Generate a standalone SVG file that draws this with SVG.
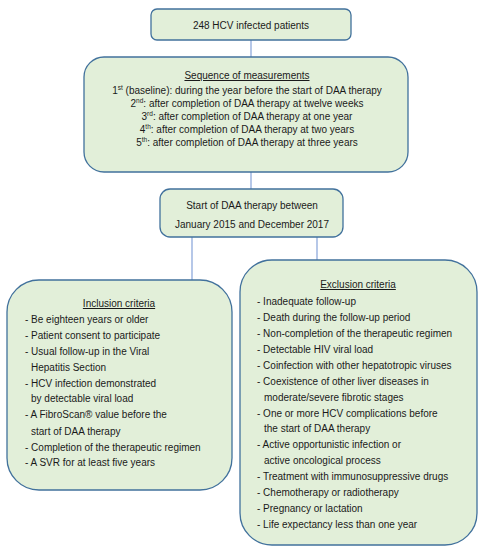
<svg xmlns="http://www.w3.org/2000/svg" width="484" height="550" viewBox="0 0 484 550">
<style>
.box{fill:#e2efd9;stroke:#41719c;stroke-width:1.3}
.con{stroke:#8faadc;stroke-width:1.3;fill:none}
text{font-family:"Liberation Sans",Arial,sans-serif;font-size:10px;fill:#1a1a1a}
.c{text-anchor:middle}
.u{text-decoration:underline}
.sup{font-size:6.5px}
</style>
<rect width="484" height="550" fill="#ffffff"/>
<g id="connectors">
<line class="con" x1="251" y1="40" x2="251" y2="57"/>
<line class="con" x1="251" y1="172" x2="251" y2="189"/>
<line class="con" x1="192" y1="237" x2="192" y2="280"/>
<line class="con" x1="317" y1="237" x2="317" y2="260"/>
</g>
<g id="patients">
<rect class="box" x="151" y="9" width="200" height="31" rx="6"/>
<text class="c" x="251" y="29">248 HCV infected patients</text>
</g>
<g id="sequence">
<rect class="box" x="84" y="57" width="324" height="115" rx="20"/>
<text class="c u" x="247" y="79">Sequence of measurements</text>
<text class="c" x="247" y="94">1<tspan class="sup" dy="-4">st</tspan><tspan dy="4"> (baseline): during the year before the start of DAA therapy</tspan></text>
<text class="c" x="247" y="107">2<tspan class="sup" dy="-4">nd</tspan><tspan dy="4">: after completion of DAA therapy at twelve weeks</tspan></text>
<text class="c" x="247" y="120">3<tspan class="sup" dy="-4">rd</tspan><tspan dy="4">: after completion of DAA therapy at one year</tspan></text>
<text class="c" x="247" y="133">4<tspan class="sup" dy="-4">th</tspan><tspan dy="4">: after completion of DAA therapy at two years</tspan></text>
<text class="c" x="247" y="146">5<tspan class="sup" dy="-4">th</tspan><tspan dy="4">: after completion of DAA therapy at three years</tspan></text>
</g>
<g id="start">
<rect class="box" x="160" y="189" width="183" height="48" rx="10"/>
<text class="c" x="252" y="209">Start of DAA therapy between</text>
<text class="c" x="252" y="228">January 2015 and December 2017</text>
</g>
<g id="inclusion">
<rect class="box" x="7" y="280" width="225" height="210" rx="32"/>
<text class="c u" x="119" y="307">Inclusion criteria</text>
<text x="25" y="323">- Be eighteen years or older</text>
<text x="25" y="339">- Patient consent to participate</text>
<text x="25" y="355">- Usual follow-up in the Viral</text>
<text x="31" y="371">Hepatitis Section</text>
<text x="25" y="387">- HCV infection demonstrated</text>
<text x="31" y="402">by detectable viral load</text>
<text x="25" y="418">- A FibroScan® value before the</text>
<text x="31" y="435">start of DAA therapy</text>
<text x="25" y="451">- Completion of the therapeutic regimen</text>
<text x="25" y="466">- A SVR for at least five years</text>
</g>
<g id="exclusion">
<rect class="box" x="240" y="260" width="237" height="285" rx="32"/>
<text class="c u" x="358" y="288">Exclusion criteria</text>
<text x="257" y="305">- Inadequate follow-up</text>
<text x="257" y="321">- Death during the follow-up period</text>
<text x="257" y="337">- Non-completion of the therapeutic regimen</text>
<text x="257" y="353">- Detectable HIV viral load</text>
<text x="257" y="369">- Coinfection with other hepatotropic viruses</text>
<text x="257" y="385">- Coexistence of other liver diseases in</text>
<text x="264" y="401">moderate/severe fibrotic stages</text>
<text x="257" y="417">- One or more HCV complications before</text>
<text x="264" y="432">the start of DAA therapy</text>
<text x="257" y="448">- Active opportunistic infection or</text>
<text x="264" y="464">active oncological process</text>
<text x="257" y="480">- Treatment with immunosuppressive drugs</text>
<text x="257" y="496">- Chemotherapy or radiotherapy</text>
<text x="257" y="512">- Pregnancy or lactation</text>
<text x="257" y="528">- Life expectancy less than one year</text>
</g>
</svg>
